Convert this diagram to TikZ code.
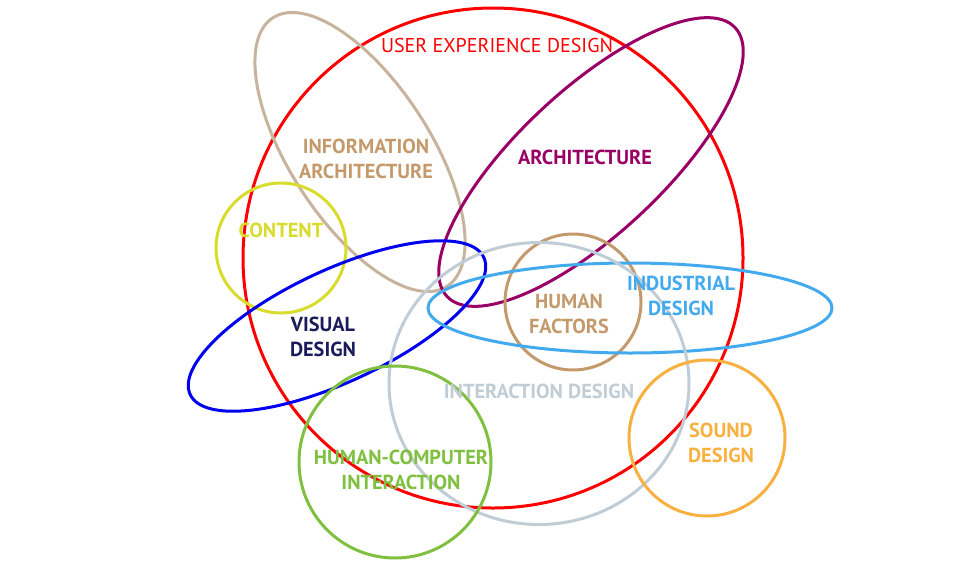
\documentclass[tikz,border=0pt]{standalone}
\usepackage{fontspec}
\setmainfont{PT Sans}
\definecolor{uxred}{RGB}{255,0,0}
\definecolor{iaring}{RGB}{200,180,156}
\definecolor{iatext}{RGB}{196,154,108}
\definecolor{archc}{RGB}{153,0,102}
\definecolor{contc}{RGB}{216,220,44}
\definecolor{visc}{RGB}{0,0,238}
\definecolor{vistext}{RGB}{28,28,92}
\definecolor{indc}{RGB}{68,170,238}
\definecolor{hfc}{RGB}{196,154,108}
\definecolor{ixc}{RGB}{192,204,214}
\definecolor{hcic}{RGB}{128,192,64}
\definecolor{sndc}{RGB}{248,176,64}
\tikzset{
  ring/.style={line width=3pt},
  lbl/.style={font=\fontsize{20.3}{25}\selectfont\bfseries, align=center, inner sep=0pt},
  ttl/.style={font=\fontsize{20}{24}\selectfont, align=center, inner sep=0pt},
}
\begin{document}
\begin{tikzpicture}[x=1pt,y=-1pt]
\useasboundingbox (0,0) rectangle (960,560);
% shapes
\draw[ring, uxred] (493,258) circle [radius=250pt];
\draw[ring, iaring, rotate around={-57:(360,152)}] (360,152) ellipse [x radius=160pt, y radius=70pt];
\draw[ring, archc, rotate around={43:(591,162)}] (591,162) ellipse [x radius=197pt, y radius=72pt];
\draw[ring, contc] (281,248) circle [radius=65pt];
\draw[ring, visc, rotate around={25:(337,326)}] (337,326) ellipse [x radius=162pt, y radius=56pt];
\draw[ring, hfc] (573,302) circle [radius=68pt];
\draw[ring, indc] (630,308) ellipse [x radius=202pt, y radius=45pt];
\draw[ring, ixc] (539,383.5) ellipse [x radius=150pt, y radius=141pt];
\draw[ring, hcic] (395,462) circle [radius=96pt];
\draw[ring, sndc] (707,438) circle [radius=78pt];
% labels
\node[ttl, text=uxred] (ux) at (497,45) {USER EXPERIENCE DESIGN};
\node[lbl, text=iatext] (ia) at (366,159) {INFORMATION\\ARCHITECTURE};
\node[lbl, text=archc] (arch) at (585,157) {ARCHITECTURE};
\node[lbl, text=contc] (cont) at (281,230) {CONTENT};
\node[lbl, text=vistext] (vis) at (323,337) {VISUAL\\DESIGN};
\node[lbl, text=hfc] (hf) at (569,314) {HUMAN\\FACTORS};
\node[lbl, text=indc] (ind) at (681,296) {INDUSTRIAL\\DESIGN};
\node[lbl, text=ixc] (ix) at (539,391) {INTERACTION DESIGN};
\node[lbl, text=hcic] (hci) at (401,470) {HUMAN-COMPUTER\\INTERACTION};
\node[lbl, text=sndc] (snd) at (721,443) {SOUND\\DESIGN};
\end{tikzpicture}
\end{document}
